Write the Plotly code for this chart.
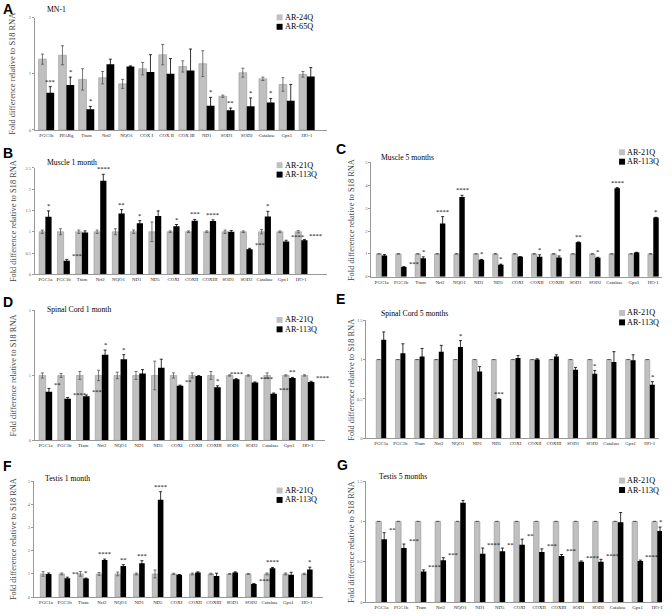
import plotly.graph_objects as go

W, H = 672, 616

# ---------------- data ----------------
cats_A = ["PGC1b", "PPARg", "Tfam", "Nrf2", "NQO1", "COX I", "COX II", "COX III",
          "ND1", "SOD1", "SOD2", "Catalase", "Gpx1", "HO-1"]
a_ctrl = [1.26, 1.33, 0.90, 0.93, 0.82, 1.09, 1.34, 1.13, 1.18, 0.60, 1.02, 0.91, 0.81, 0.99]
a_ctrl_err = [0.09, 0.17, 0.19, 0.11, 0.08, 0.11, 0.18, 0.10, 0.23, 0.02, 0.08, 0.03, 0.12, 0.05]
a_mut = [0.66, 0.80, 0.37, 1.17, 1.13, 1.03, 1.00, 1.06, 0.43, 0.35, 0.42, 0.49, 0.52, 0.95]
a_mut_err = [0.11, 0.14, 0.05, 0.09, 0.01, 0.31, 0.27, 0.38, 0.15, 0.04, 0.15, 0.07, 0.29, 0.16]
a_sig = ["***", "*", "*", "", "", "", "", "", "*", "**", "*", "*", "", ""]

cats = ["PGC1a", "PGC1b", "Tfam", "Nrf2", "NQO1", "ND1", "ND5", "COXI", "COXII",
        "COXIII", "SOD1", "SOD2", "Catalase", "Gpx1", "HO-1"]

b_ctrl = [1.0] * 15
b_ctrl_err = [0.04, 0.07, 0.04, 0.04, 0.07, 0.04, 0.23, 0.02, 0.02, 0.02, 0.04, 0.02, 0.05, 0.02, 0.03]
b_mut = [1.35, 0.32, 0.98, 2.20, 1.43, 1.20, 1.37, 1.13, 1.26, 1.25, 1.00, 0.59, 1.36, 0.77, 0.80]
b_mut_err = [0.14, 0.03, 0.04, 0.15, 0.09, 0.06, 0.12, 0.04, 0.03, 0.03, 0.03, 0.02, 0.12, 0.03, 0.02]
b_sig = ["*", "****", "", "****", "**", "*", "", "*", "***", "****", "", "****", "*", "****", "****"]

c_ctrl = [1.0] * 15
c_ctrl_err = [0.01] * 15
c_mut = [0.93, 0.43, 0.81, 2.33, 3.49, 0.74, 0.53, 0.87, 0.87, 0.84, 1.51, 0.83, 3.87, 1.06, 2.59]
c_mut_err = [0.04, 0.01, 0.06, 0.30, 0.07, 0.02, 0.02, 0.01, 0.09, 0.07, 0.01, 0.02, 0.03, 0.01, 0.01]
c_sig = ["", "***", "*", "****", "****", "*", "*", "", "*", "*", "**", "*", "****", "", "*"]

d_ctrl = [1.0] * 15
d_ctrl_err = [0.04, 0.03, 0.06, 0.08, 0.05, 0.06, 0.22, 0.04, 0.04, 0.06, 0.01, 0.01, 0.04, 0.01, 0.01]
d_mut = [0.75, 0.64, 0.68, 1.32, 1.25, 1.03, 1.12, 0.84, 0.99, 0.82, 0.94, 0.89, 0.72, 0.96, 0.90]
d_mut_err = [0.05, 0.02, 0.02, 0.07, 0.07, 0.06, 0.13, 0.01, 0.01, 0.02, 0.01, 0.01, 0.01, 0.01, 0.01]
d_sig = ["**", "****", "***", "*", "*", "", "", "**", "", "*", "****", "****", "****", "**", "****"]

e_ctrl = [1.0] * 15
e_ctrl_err = [0.0] * 15
e_mut = [1.25, 1.08, 1.04, 1.10, 1.16, 0.85, 0.50, 1.02, 1.00, 1.04, 0.87, 0.82, 0.97, 0.99, 0.68]
e_mut_err = [0.10, 0.12, 0.10, 0.08, 0.08, 0.06, 0.0, 0.03, 0.01, 0.02, 0.03, 0.04, 0.13, 0.07, 0.04]
e_sig = ["", "", "", "", "*", "", "***", "", "", "", "", "*", "", "", "*"]

f_ctrl = [1.0] * 15
f_ctrl_err = [0.10, 0.04, 0.10, 0.06, 0.08, 0.04, 0.17, 0.03, 0.04, 0.03, 0.02, 0.02, 0.04, 0.04, 0.03]
f_mut = [1.00, 0.81, 0.80, 1.60, 1.34, 1.46, 4.20, 0.96, 1.06, 0.91, 1.06, 0.57, 1.24, 0.96, 1.19]
f_mut_err = [0.04, 0.05, 0.02, 0.04, 0.06, 0.11, 0.34, 0.01, 0.03, 0.12, 0.03, 0.01, 0.04, 0.11, 0.10]
f_sig = ["", "**", "*", "****", "**", "***", "****", "", "", "", "", "****", "****", "", "*"]

g_ctrl = [1.0] * 15
g_ctrl_err = [0.0] * 15
g_mut = [0.78, 0.67, 0.38, 0.52, 1.23, 0.60, 0.63, 0.71, 0.62, 0.57, 0.50, 0.50, 0.99, 0.51, 0.88]
g_mut_err = [0.08, 0.05, 0.02, 0.03, 0.03, 0.07, 0.04, 0.07, 0.04, 0.02, 0.01, 0.03, 0.12, 0.01, 0.05]
g_sig = ["**", "***", "****", "***", "", "****", "**", "**", "***", "***", "****", "****", "", "****", "*"]

titles = ["MN-1", "Muscle 1 month", "Muscle 5 months", "Spinal Cord 1 month",
          "Spinal Cord 5 months", "Testis 1 month", "Testis 5 months"]
letters = ["A", "B", "C", "D", "E", "F", "G"]
legend_names = [("AR-24Q", "AR-65Q")] + [("AR-21Q", "AR-113Q")] * 6
ytitle = "Fold difference relative to S18 RNA"

panel_data = [
    (cats_A, a_ctrl, a_ctrl_err, a_mut, a_mut_err, a_sig),
    (cats, b_ctrl, b_ctrl_err, b_mut, b_mut_err, b_sig),
    (cats, c_ctrl, c_ctrl_err, c_mut, c_mut_err, c_sig),
    (cats, d_ctrl, d_ctrl_err, d_mut, d_mut_err, d_sig),
    (cats, e_ctrl, e_ctrl_err, e_mut, e_mut_err, e_sig),
    (cats, f_ctrl, f_ctrl_err, f_mut, f_mut_err, f_sig),
    (cats, g_ctrl, g_ctrl_err, g_mut, g_mut_err, g_sig),
]

# ---------------- layout / style (pixels) ----------------
# x0, x1, ytop, ybot, ymax, dtick, bar width (category units), stars beside, x range
geo = [
    (35, 327, 15.7, 129, 2, 1, 0.39, False, (-0.57, 13.98)),
    (35, 327, 167.3, 274.5, 2.5, 0.5, 0.34, True, (-0.57, 15.38)),
    (372, 663, 161.7, 277, 5, 1, 0.28, True, (-0.53, 14.45)),
    (35, 325, 311, 442, 2, 1, 0.35, True, (-0.57, 14.89)),
    (367, 660, 320.7, 440, 1.5, 0.5, 0.26, False, (-0.77, 14.48)),
    (34, 323, 483, 600, 5, 1, 0.30, True, (-0.64, 14.83)),
    (367, 663, 483, 605, 1.5, 0.5, 0.28, True, (-0.76, 14.24)),
]
letter_pos = [(1, 7), (1, 152), (334, 148), (1, 302), (334, 299), (1, 468), (335, 467)]
title_pos = [(45, 8), (45, 162), (380, 157), (45, 310), (380, 314), (43, 480), (378, 478)]
legend_pos = [(277, 15.5), (277, 164.5), (620, 151.5), (277, 320.5), (620, 313.5), (277, 492.5), (620, 482.5)]
ytitle_x = [13, 13, 352, 13, 352, 13, 352]

GRAY = "#c0c0c0"
SERIF = "Liberation Serif"


def px(x):
    return x / W


def py(y):
    return 1 - y / H


fig = go.Figure()
annotations = []
shapes = []
layout_axes = {}

for k, (pd_, g) in enumerate(zip(panel_data, geo)):
    cl, ctrl, ctrl_err, mut, mut_err, sig = pd_
    x0, x1, ytop, ybot, ymax, dtick, bw, beside, xr = g
    n = k + 1
    xa = "x" if n == 1 else f"x{n}"
    ya = "y" if n == 1 else f"y{n}"
    idx = list(range(len(cl)))

    fig.add_trace(go.Bar(
        x=idx, y=ctrl, xaxis=xa, yaxis=ya, width=bw, offset=-bw,
        marker=dict(color=GRAY, line=dict(color="#8a8a8a", width=0.5)),
        error_y=dict(type="data", array=ctrl_err, visible=True, color="#555",
                     thickness=0.8, width=1.5),
        showlegend=False, name=legend_names[k][0]))
    fig.add_trace(go.Bar(
        x=idx, y=mut, xaxis=xa, yaxis=ya, width=bw, offset=0,
        marker=dict(color="#000", line=dict(width=0)),
        error_y=dict(type="data", array=mut_err, visible=True, color="#000",
                     thickness=0.8, width=1.5),
        showlegend=False, name=legend_names[k][1]))

    xkey = "xaxis" if n == 1 else f"xaxis{n}"
    ykey = "yaxis" if n == 1 else f"yaxis{n}"
    layout_axes[xkey] = dict(
        domain=[px(x0), px(x1)], anchor=ya, range=list(xr),
        tickmode="array", tickvals=idx, ticktext=cl, ticks="",
        tickfont=dict(family=SERIF, size=4.8, color="#222"),
        showline=True, linecolor="#999", linewidth=1, showgrid=False,
        zeroline=False, fixedrange=True, tickangle=0)
    layout_axes[ykey] = dict(
        domain=[py(ybot), py(ytop)], anchor=xa, range=[0, ymax], dtick=dtick,
        showline=True, linecolor="#999", linewidth=1, showgrid=False,
        zeroline=False, ticks="outside", ticklen=2, tickcolor="#999",
        tickfont=dict(family=SERIF, size=4.5, color="#666"), fixedrange=True)

    # significance stars
    for i in idx:
        s = sig[i]
        if not s:
            continue
        top = mut[i] + mut_err[i]
        if beside and len(s) >= 2 and mut[i] < ctrl[i] - 0.08:
            annotations.append(dict(
                x=i + bw, y=top, xref=xa, yref=ya, text=s,
                showarrow=False, xanchor="left", yanchor="bottom", yshift=-2,
                font=dict(family=SERIF, size=6.5, color="#000")))
        else:
            annotations.append(dict(
                x=i + bw / 2, y=top, xref=xa, yref=ya, text=s,
                showarrow=False, xanchor="center", yanchor="bottom", yshift=0,
                font=dict(family=SERIF, size=6.5, color="#000")))

    # panel letter
    lx, ly = letter_pos[k]
    annotations.append(dict(
        x=px(lx), y=py(ly), xref="paper", yref="paper", text=f"<b>{letters[k]}</b>",
        showarrow=False, xanchor="left", yanchor="middle",
        font=dict(family="Liberation Sans", size=14, color="#000")))
    # title
    tx, ty = title_pos[k]
    annotations.append(dict(
        x=px(tx), y=py(ty), xref="paper", yref="paper", text=titles[k],
        showarrow=False, xanchor="left", yanchor="middle",
        font=dict(family=SERIF, size=7.7, color="#000")))
    # y title
    annotations.append(dict(
        x=px(ytitle_x[k]), y=py((ytop + ybot) / 2), xref="paper", yref="paper",
        text=ytitle, textangle=-90, showarrow=False, xanchor="center", yanchor="middle",
        font=dict(family=SERIF, size=8.4, color="#444")))
    # legend
    gx, gy = legend_pos[k]
    for j, (name, col) in enumerate(zip(legend_names[k], [GRAY, "#000"])):
        yy = gy + j * 9.5
        shapes.append(dict(type="rect", xref="paper", yref="paper",
                           x0=px(gx), x1=px(gx + 6), y0=py(yy + 3), y1=py(yy - 3),
                           fillcolor=col, line=dict(width=0)))
        annotations.append(dict(
            x=px(gx + 7), y=py(yy), xref="paper", yref="paper", text=name,
            showarrow=False, xanchor="left", yanchor="middle", borderpad=0,
            font=dict(family=SERIF, size=8.2, color="#000")))

fig.update_layout(
    width=W, height=H, margin=dict(l=0, r=0, t=0, b=0),
    paper_bgcolor="white", plot_bgcolor="white", barmode="overlay",
    showlegend=False, annotations=annotations, shapes=shapes,
    hovermode=False, font=dict(family=SERIF), **layout_axes)

fig.write_html(
    "out.html",
    config={"displayModeBar": False, "staticPlot": True},
    post_script="document.body.style.margin='0';document.body.style.overflow='hidden';",
)
